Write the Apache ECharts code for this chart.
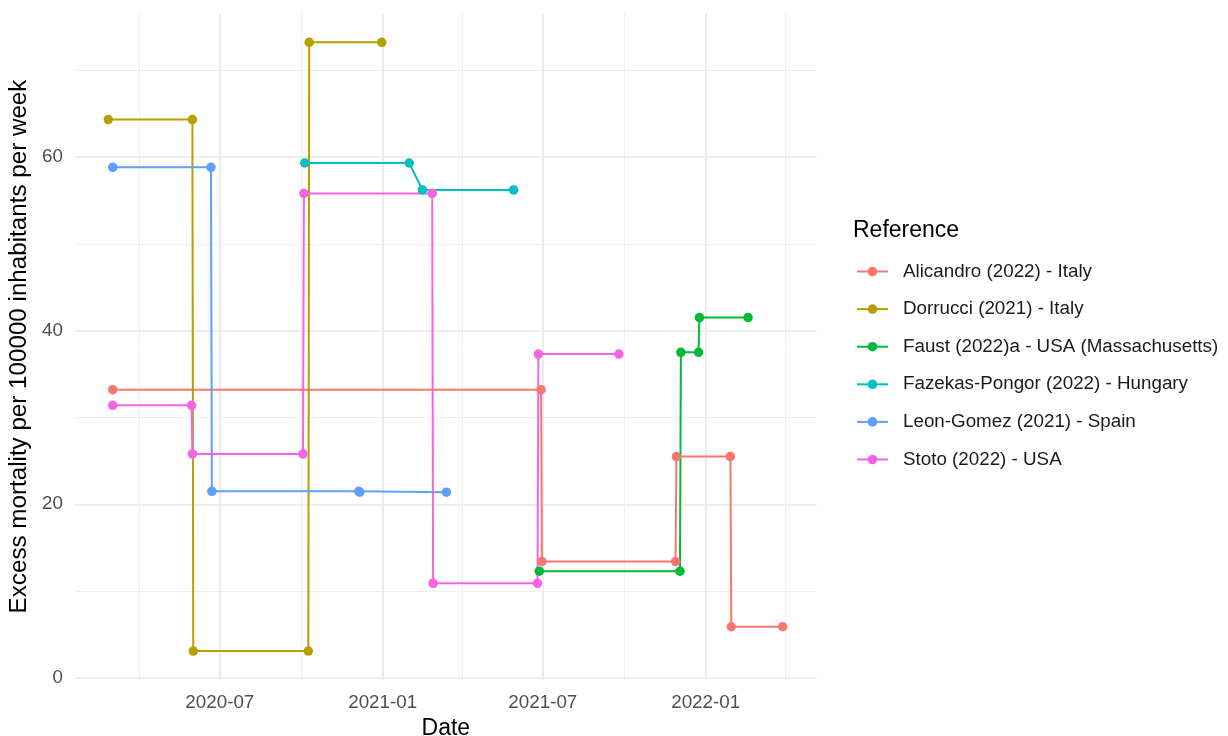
<!DOCTYPE html>
<html><head><meta charset="utf-8">
<script src="https://cdn.jsdelivr.net/npm/echarts@6/dist/echarts.min.js"></script>
<style>html,body{margin:0;padding:0;background:#fff}#c{width:1228px;height:736px}</style>
</head><body><div id="c"></div>
<script>
// ---- data ----
const references = [
  'Alicandro (2022) - Italy',
  'Dorrucci (2021) - Italy',
  'Faust (2022)a - USA (Massachusetts)',
  'Fazekas-Pongor (2022) - Hungary',
  'Leon-Gomez (2021) - Spain',
  'Stoto (2022) - USA'
];
const colors = ['#F8766D', '#B79F00', '#00BA38', '#00BFC4', '#619CFF', '#F564E3'];

const alicandroDates  = ['2020-03-02','2021-06-29','2021-06-30','2021-11-28','2021-11-29','2022-01-29','2022-01-30','2022-03-29'];
const alicandroValues = [33.2, 33.2, 13.4, 13.4, 25.5, 25.5, 5.9, 5.9];

const dorrucciDates  = ['2020-02-26','2020-05-31','2020-06-01','2020-10-09','2020-10-10','2020-12-31'];
const dorrucciValues = [64.3, 64.3, 3.1, 3.1, 73.2, 73.2];

const faustDates  = ['2021-06-27','2021-12-03','2021-12-04','2021-12-24','2021-12-25','2022-02-18'];
const faustValues = [12.3, 12.3, 37.5, 37.5, 41.5, 41.5];

const fazekasDates  = ['2020-10-05','2021-01-31','2021-02-15','2021-05-29'];
const fazekasValues = [59.3, 59.3, 56.2, 56.2];

const leonDates  = ['2020-03-02','2020-06-21','2020-06-22','2020-12-05','2020-12-06','2021-03-14'];
const leonValues = [58.8, 58.8, 21.5, 21.5, 21.4, 21.4];

const stotoDates  = ['2020-03-02','2020-05-30','2020-05-31','2020-10-03','2020-10-04','2021-02-26','2021-02-27','2021-06-25','2021-06-26','2021-09-25'];
const stotoValues = [31.4, 31.4, 25.8, 25.8, 55.8, 55.8, 10.9, 10.9, 37.3, 37.3];

const xMajorTicks = ['2020-07-01','2021-01-01','2021-07-01','2022-01-01'];
const xMinorTicks = ['2020-04-01','2020-10-01','2021-04-01','2021-10-01','2022-04-01'];
const yMajorTicks = [0, 20, 40, 60];
const yMinorTicks = [10, 30, 50, 70];
const xRange = ['2020-01-19T08:00:00Z', '2022-05-06T12:00:00Z'];
const yRange = [-0.23, 76.57];

// ---- build ----
const t = s => Date.parse(s.length === 10 ? s + 'T00:00:00Z' : s);
const fmt = v => { const d = new Date(v); return d.getUTCFullYear() + '-' + String(d.getUTCMonth() + 1).padStart(2, '0'); };
const seriesDates = [alicandroDates, dorrucciDates, faustDates, fazekasDates, leonDates, stotoDates];
const seriesValues = [alicandroValues, dorrucciValues, faustValues, fazekasValues, leonValues, stotoValues];
const pairs = seriesDates.map((ds, i) => ds.map((d, j) => [t(d), seriesValues[i][j]]));

const FONT = 'Liberation Sans, Arial, Helvetica, sans-serif';
const series = [];
references.forEach((name, i) => {
  series.push({
    name, type: 'line', data: pairs[i], symbol: 'circle', showSymbol: false, symbolSize: 9,
    lineStyle: {color: colors[i], width: 2}, itemStyle: {color: colors[i]},
    z: 2, silent: true, animation: false, emphasis: {disabled: true}
  });
});
references.forEach((name, i) => {
  series.push({
    name, type: 'scatter', data: pairs[i], symbol: 'circle', symbolSize: 9.5,
    itemStyle: {color: colors[i], opacity: 1}, z: 3, silent: true, animation: false,
    emphasis: {disabled: true}
  });
});

const chart = echarts.init(document.getElementById('c'), null, {renderer: 'canvas'});
chart.setOption({
  backgroundColor: '#ffffff',
  animation: false,
  textStyle: {fontFamily: FONT},
  title: {
    text: 'Reference', left: 853, top: 219, padding: 0,
    textStyle: {fontSize: 23, fontWeight: 'normal', color: '#000000', fontFamily: FONT}
  },
  legend: {
    data: references, orient: 'vertical', left: 856, top: 262,
    itemWidth: 31, itemHeight: 12, itemGap: 18.6, padding: 0,
    selectedMode: false,
    textStyle: {fontSize: 18.8, color: '#1a1a1a', fontFamily: FONT, padding: [0, 0, 0, 10]}
  },
  grid: {left: 75, right: 411.3, top: 13, bottom: 56, containLabel: false, outerBoundsMode: 'none'},
  xAxis: [{
    type: 'value', min: t(xRange[0]), max: t(xRange[1]),
    name: 'Date', nameLocation: 'middle', nameGap: 35,
    nameTextStyle: {fontSize: 23, color: '#000000', fontFamily: FONT},
    axisLine: {show: false},
    axisTick: {show: false, customValues: xMajorTicks.map(t)},
    axisLabel: {
      customValues: xMajorTicks.map(t), margin: 13, fontSize: 18.8, color: '#4D4D4D', fontFamily: FONT,
      formatter: fmt
    },
    splitLine: {show: true, lineStyle: {color: '#E8E8E8', width: 1.6}}
  }, {
    type: 'value', min: t(xRange[0]), max: t(xRange[1]), position: 'bottom',
    axisLine: {show: false},
    axisTick: {show: false, customValues: xMinorTicks.map(t)},
    axisLabel: {show: false, customValues: xMinorTicks.map(t)},
    splitLine: {show: true, lineStyle: {color: '#EEEEEE', width: 1}}
  }],
  yAxis: [{
    type: 'value', min: yRange[0], max: yRange[1],
    name: 'Excess mortality per 100000 inhabitants per week', nameLocation: 'middle', nameGap: 35,
    nameTextStyle: {fontSize: 24.2, color: '#000000', fontFamily: FONT},
    axisLine: {show: false},
    axisTick: {show: false, customValues: yMajorTicks},
    axisLabel: {customValues: yMajorTicks, margin: 12, fontSize: 18.8, color: '#4D4D4D', fontFamily: FONT},
    splitLine: {show: true, lineStyle: {color: '#E8E8E8', width: 1.6}}
  }, {
    type: 'value', min: yRange[0], max: yRange[1], position: 'left',
    axisLine: {show: false},
    axisTick: {show: false, customValues: yMinorTicks},
    axisLabel: {show: false, customValues: yMinorTicks},
    splitLine: {show: true, lineStyle: {color: '#EEEEEE', width: 1}}
  }],
  series
});
</script>
</body></html>
